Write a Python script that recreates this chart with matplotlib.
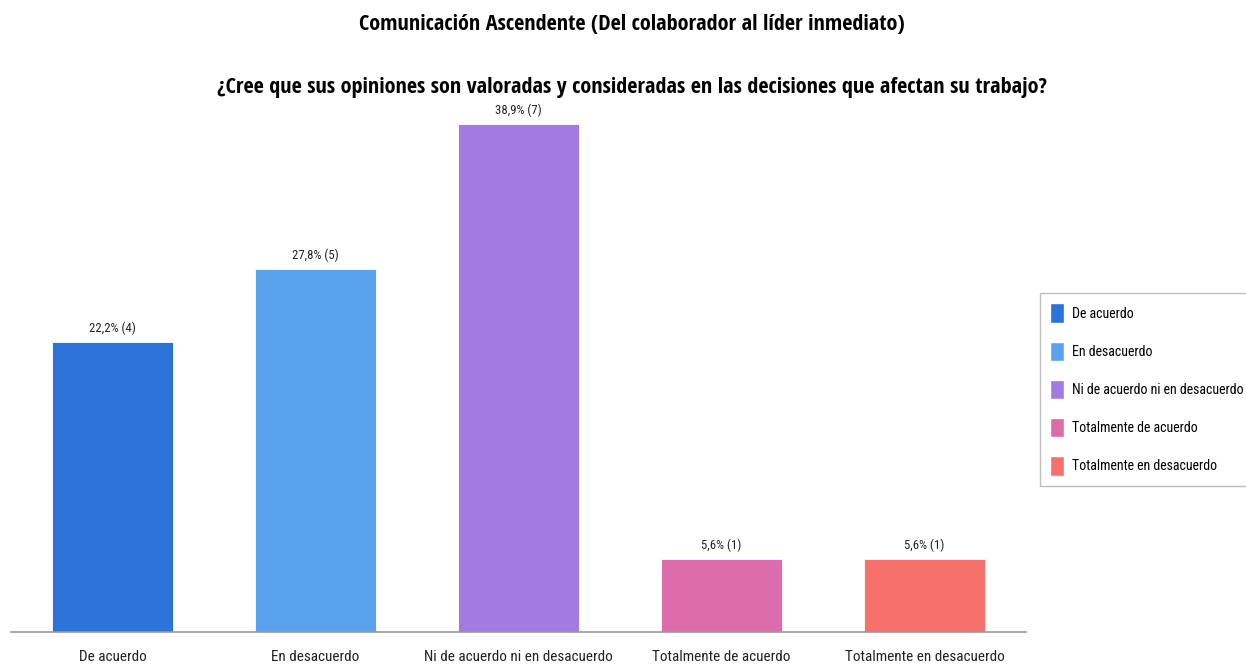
import matplotlib.pyplot as plt
from matplotlib.patches import Patch

categories = ['De acuerdo', 'En desacuerdo', 'Ni de acuerdo ni en desacuerdo',
              'Totalmente de acuerdo', 'Totalmente en desacuerdo']
percentages = [22.2, 27.8, 38.9, 5.6, 5.6]
counts = [4, 5, 7, 1, 1]
colors = ['#2b72d9', '#5aa2ee', '#a37ae2', '#dd6cac', '#f6706c']

title = 'Comunicación Ascendente (Del colaborador al líder inmediato)'
question = '¿Cree que sus opiniones son valoradas y consideradas en las decisiones que afectan su trabajo?'

plt.rcParams['font.family'] = ['Roboto Condensed', 'DejaVu Sans']

fig = plt.figure(figsize=(12.46, 6.66), dpi=100)
ax = fig.add_axes([11 / 1246, 34 / 666, 1015 / 1246, 508 / 666])

x = range(len(categories))
bars = ax.bar(x, percentages, width=0.6, color=colors, edgecolor='white', linewidth=0.6)
labels = ['%s%% (%d)' % (str(p).replace('.', ','), c) for p, c in zip(percentages, counts)]
ax.bar_label(bars, labels=labels, padding=5, fontsize=9.2, color='#222222')

ax.set_xlim(-0.5, len(categories) - 0.5)
ax.set_ylim(0, max(percentages))
ax.set_xticks(list(x))
ax.set_xticklabels(categories, fontsize=10.9, color='#222222')
ax.tick_params(axis='x', length=0, pad=13)
ax.set_yticks([])
for side in ['top', 'right', 'left']:
    ax.spines[side].set_visible(False)
ax.spines['bottom'].set_color('#9a9a9a')
ax.spines['bottom'].set_linewidth(1.2)

title_font = dict(family=['Open Sans Condensed', 'DejaVu Sans'], fontweight='bold', fontsize=16)
fig.text(632 / 1246, 1 - 25 / 666, title, ha='center', va='center', **title_font)
fig.text(632 / 1246, 1 - 88 / 666, question, ha='center', va='center', **title_font)

handles = [Patch(facecolor=c, edgecolor='white') for c in colors]
fig.legend(handles, categories, loc='upper left',
           bbox_to_anchor=(1040 / 1246, 1 - 293 / 666),
           fontsize=10, frameon=True, fancybox=False, edgecolor='#b0b0b0',
           handlelength=0.95, handleheight=1.75, handletextpad=0.6,
           labelspacing=1.37, borderpad=0.75, borderaxespad=0)

fig.savefig('out.png', dpi=100)
